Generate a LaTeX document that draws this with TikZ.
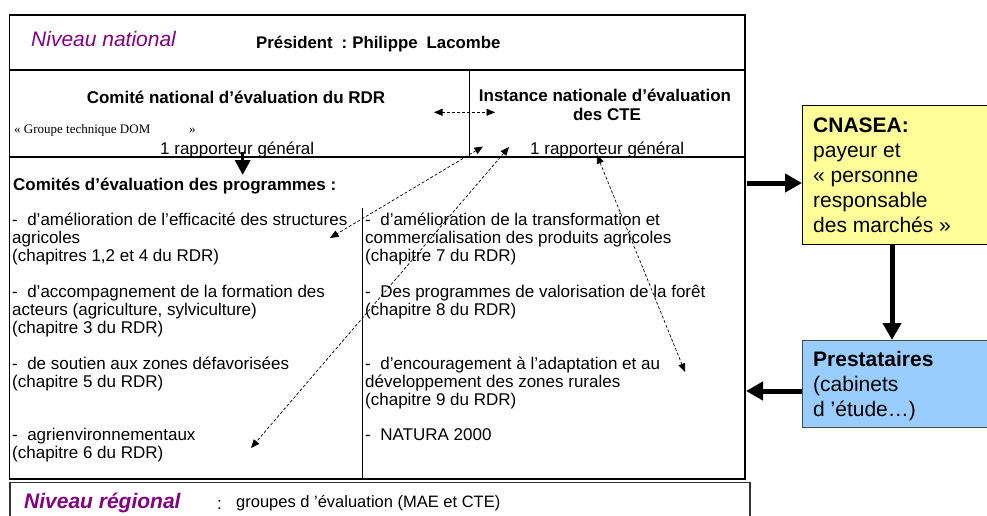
\documentclass[tikz,border=0pt]{standalone}
\usepackage{fontspec}
\setmainfont{Liberation Sans}
\newfontfamily\serifface{Liberation Serif}
\usetikzlibrary{arrows.meta}
\definecolor{nivpurple}{HTML}{800080}
\definecolor{cnyellow}{HTML}{FFFF99}
\definecolor{prblue}{HTML}{99CCFF}
\begin{document}
\begin{tikzpicture}[x=1pt,y=-1pt,
  txt/.style={inner sep=0pt, anchor=base west, font=\fontsize{17}{18}\selectfont},
  ctxt/.style={inner sep=0pt, anchor=base, font=\fontsize{17}{18}\selectfont\bfseries},
  sidetxt/.style={inner sep=0pt, anchor=base west, font=\fontsize{21}{25}\selectfont},
  frameline/.style={line width=1.6pt, draw=black},
  dasharrow/.style={dash pattern=on 3pt off 2pt, line width=0.7pt,
    {Triangle[length=8.5pt,width=7pt]}-{Triangle[length=8.5pt,width=7pt]}},
  bigarrow/.style={line width=5pt, -{Triangle[length=17pt,width=18pt]}},
  smallarrow/.style={line width=3.5pt, -{Triangle[length=15pt,width=15pt]}}
]
\useasboundingbox (0,0) rectangle (987,516);

% ---- frames
\draw[frameline] (9.5,15) rectangle (745,479);
\draw[frameline] (9.5,70) -- (745,70);
\draw[frameline] (9.5,157) -- (745,157);
\draw[frameline] (469.3,70) -- (469.3,157);
\draw[frameline] (362.3,208) -- (362.3,479);
\draw[line width=1.2pt, draw=black!80] (10,522) -- (10,482.5) -- (750,482.5) -- (750,522);

% ---- side boxes
\draw[line width=1pt, fill=cnyellow] (802,106) rectangle (995,244);
\draw[line width=1pt, draw=black!70, fill=prblue] (802,340) rectangle (995,427);

% ---- top texts
\node[inner sep=0pt, anchor=base west, font=\fontsize{21}{25}\selectfont\itshape, text=nivpurple] (nivnat) at (31,46.5) {Niveau national};
\node[inner sep=0pt, anchor=base west, font=\fontsize{16.8}{18}\selectfont\bfseries] (pres) at (256,48.5) {Président\hspace{9pt}:\hspace{5pt}Philippe\hspace{9pt}Lacombe};
\node[ctxt] (comnat) at (236,103.5) {Comité national d’évaluation du RDR};
\node[inner sep=0pt, anchor=base west, font=\fontsize{13}{14}\selectfont\serifface] (gtdom) at (14,133.5) {« Groupe technique DOM};
\node[inner sep=0pt, anchor=base west, font=\fontsize{13}{14}\selectfont\serifface] (gtdomb) at (189,133.5) {»};
\node[txt] (rapl) at (160,154.5) {1 rapporteur général};
\node[ctxt] (inst) at (605,102) {Instance nationale d’évaluation};
\node[ctxt] (instb) at (607,120.5) {des CTE};
\node[txt] (rapr) at (530,154.5) {1 rapporteur général};

% ---- programmes
\node[inner sep=0pt, anchor=base west, font=\fontsize{17}{18}\selectfont\bfseries] (comprog) at (13,190.5) {Comités d’évaluation des programmes :};

\node[txt] (l1a) at (12,225.5) {-~~d’amélioration de l’efficacité des structures};
\node[txt] (l1b) at (12,243.5) {agricoles};
\node[txt] (l1c) at (12,261.5) {(chapitres 1,2 et 4 du RDR)};
\node[txt] (l2a) at (12,297.5) {-~~d’accompagnement de la formation des};
\node[txt] (l2b) at (12,315.5) {acteurs (agriculture, sylviculture)};
\node[txt] (l2c) at (12,333.5) {(chapitre 3 du RDR)};
\node[txt] (l3a) at (12,369.5) {-~~de soutien aux zones défavorisées};
\node[txt] (l3b) at (12,387.5) {(chapitre 5 du RDR)};
\node[txt] (l4a) at (12,440.5) {-~~agrienvironnementaux};
\node[txt] (l4b) at (12,458.5) {(chapitre 6 du RDR)};

\node[txt] (r1a) at (365,225.5) {-~~d’amélioration de la transformation et};
\node[txt] (r1b) at (365,243.5) {commercialisation des produits agricoles};
\node[txt] (r1c) at (365,261.5) {(chapitre 7 du RDR)};
\node[txt] (r2a) at (365,297.5) {-~~Des programmes de valorisation de la forêt};
\node[txt] (r2b) at (365,315.5) {(chapitre 8 du RDR)};
\node[txt] (r3a) at (365,369.5) {-~~d’encouragement à l’adaptation et au};
\node[txt] (r3b) at (365,387.5) {développement des zones rurales};
\node[txt] (r3c) at (365,405.5) {(chapitre 9 du RDR)};
\node[txt] (r4a) at (365,440.5) {-~~NATURA 2000};

% ---- regional
\node[inner sep=0pt, anchor=base west, font=\fontsize{21}{25}\selectfont\bfseries\itshape, text=nivpurple] (nivreg) at (24,508.5) {Niveau régional};
\node[txt] (colon) at (217,509) {:};
\node[inner sep=0pt, anchor=base west, font=\fontsize{16.5}{18}\selectfont] (grp) at (236,507.5) {groupes d ’évaluation (MAE et CTE)};

% ---- side texts
\node[sidetxt, font=\fontsize{21}{25}\selectfont\bfseries] (cn1) at (813,132.5) {CNASEA:};
\node[sidetxt] (cn2) at (813,157.5) {payeur et};
\node[sidetxt] (cn3) at (813,182.3) {« personne};
\node[sidetxt] (cn4) at (813,207.1) {responsable};
\node[sidetxt] (cn5) at (813,232) {des marchés »};
\node[sidetxt, font=\fontsize{21}{25}\selectfont\bfseries] (pr1) at (813,366.7) {Prestataires};
\node[sidetxt] (pr2) at (813,391.7) {(cabinets};
\node[sidetxt] (pr3) at (813,416.7) {d ’étude…)};

% ---- coordinates for connectors
\coordinate (d1a) at (434,112.3);
\coordinate (d1b) at (495,112.3);
\coordinate (d2a) at (483,146.5);
\coordinate (d2b) at (330,238);
\coordinate (d3a) at (509,147);
\coordinate (d3b) at (251,448);
\coordinate (d4a) at (597,155);
\coordinate (d4b) at (685,372);
\coordinate (ka) at (242.7,152);
\coordinate (kb) at (242.7,175);
\coordinate (ea) at (747,183);
\coordinate (eb) at (802,183);
\coordinate (fa) at (892,244);
\coordinate (fb) at (892,340);
\coordinate (ga) at (802,391);
\coordinate (gb) at (746,391);

\draw[dasharrow] (d1a) -- (d1b);
\draw[dasharrow] (d2a) -- (d2b);
\draw[dasharrow] (d3a) -- (d3b);
\draw[dasharrow] (d4a) -- (d4b);

\draw[smallarrow] (ka) -- (kb);
\draw[bigarrow] (ea) -- (eb);
\draw[bigarrow] (fa) -- (fb);
\draw[bigarrow] (ga) -- (gb);
\end{tikzpicture}
\end{document}
